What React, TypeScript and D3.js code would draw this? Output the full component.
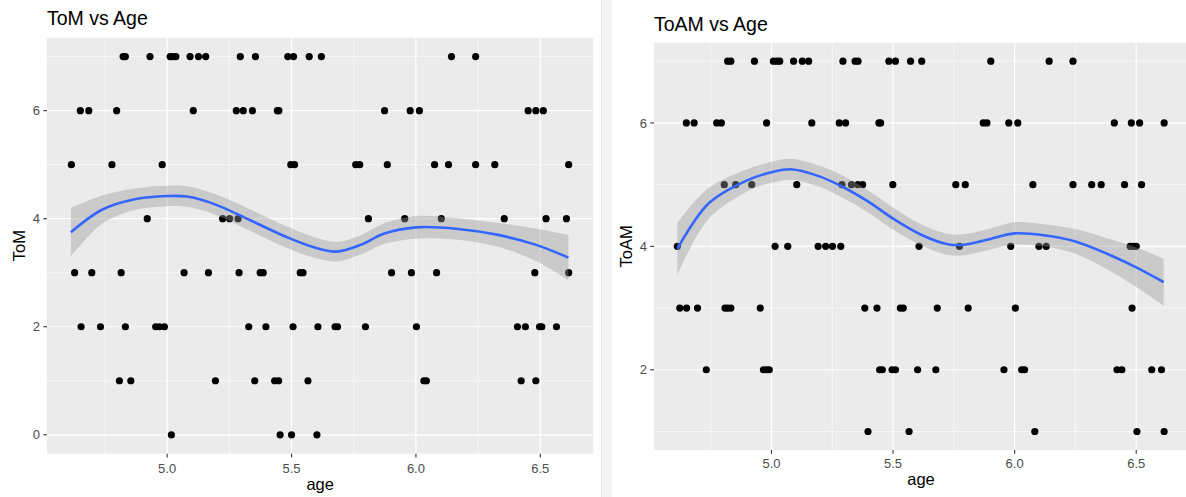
import * as d3 from "d3";

// ToM scores, ages grouped by score level
const tom7 = [4.823, 4.832, 4.931, 5.012, 5.023, 5.035, 5.092, 5.126, 5.155, 5.294, 5.355, 5.485, 5.508, 5.571, 5.62, 6.143, 6.24];
const tom6 = [4.651, 4.685, 4.797, 5.105, 5.278, 5.306, 5.343, 5.443, 5.449, 5.874, 5.977, 6.014, 6.451, 6.482, 6.512];
const tom5 = [4.615, 4.778, 4.98, 5.497, 5.512, 5.758, 5.774, 5.885, 6.075, 6.131, 6.24, 6.317, 6.614];
const tom4 = [4.92, 5.223, 5.251, 5.285, 5.809, 5.955, 6.102, 6.355, 6.523, 6.605];
const tom3 = [4.628, 4.697, 4.815, 5.068, 5.166, 5.289, 5.374, 5.386, 5.535, 5.546, 5.902, 5.982, 6.083, 6.478, 6.614];
const tom2 = [4.654, 4.732, 4.832, 4.954, 4.969, 4.989, 5.328, 5.397, 5.506, 5.606, 5.675, 5.685, 5.797, 6.002, 6.408, 6.44, 6.497, 6.506, 6.565];
const tom1 = [4.808, 4.854, 5.194, 5.352, 5.432, 5.448, 5.566, 6.032, 6.042, 6.423, 6.482];
const tom0 = [5.017, 5.454, 5.5, 5.602];

// ToAM scores
const toam7 = [4.82, 4.833, 4.93, 5.008, 5.022, 5.034, 5.091, 5.127, 5.153, 5.294, 5.344, 5.356, 5.483, 5.51, 5.572, 5.618, 5.902, 6.142, 6.24];
const toam6 = [4.65, 4.682, 4.775, 4.794, 4.98, 5.166, 5.279, 5.305, 5.442, 5.449, 5.871, 5.886, 5.976, 6.013, 6.41, 6.48, 6.514, 6.615];
const toam5 = [4.806, 4.853, 4.919, 5.104, 5.29, 5.329, 5.355, 5.375, 5.499, 5.758, 5.797, 6.075, 6.24, 6.317, 6.356, 6.452, 6.522];
const toam4 = [4.613, 5.015, 5.067, 5.192, 5.223, 5.251, 5.285, 5.607, 5.773, 5.984, 6.1, 6.13, 6.475, 6.488, 6.5];
const toam3 = [4.623, 4.651, 4.696, 4.809, 4.82, 4.833, 4.954, 5.384, 5.434, 5.53, 5.542, 5.682, 5.809, 6.003, 6.483];
const toam2 = [4.732, 4.967, 4.98, 4.991, 5.445, 5.456, 5.496, 5.51, 5.601, 5.676, 5.956, 6.029, 6.041, 6.421, 6.441, 6.564, 6.604];
const toam1 = [5.397, 5.566, 6.083, 6.503, 6.615];

// loess fits
const tomFitAge = [4.613, 4.74, 4.87, 5.0, 5.08, 5.19, 5.33, 5.48, 5.59, 5.68, 5.78, 5.87, 6.0, 6.17, 6.33, 6.48, 6.613];
const tomFit = [3.75, 4.17, 4.36, 4.42, 4.41, 4.27, 3.98, 3.66, 3.47, 3.39, 3.52, 3.72, 3.84, 3.81, 3.7, 3.52, 3.28];
const tomSe = [0.45, 0.26, 0.2, 0.19, 0.19, 0.19, 0.2, 0.2, 0.19, 0.18, 0.18, 0.19, 0.21, 0.2, 0.22, 0.3, 0.42];

const toamFitAge = [4.613, 4.74, 4.9, 5.0, 5.08, 5.2, 5.3, 5.4, 5.5, 5.62, 5.73, 5.8, 5.9, 6.0, 6.12, 6.25, 6.38, 6.5, 6.613];
const toamFit = [3.96, 4.69, 5.07, 5.2, 5.25, 5.13, 4.95, 4.72, 4.45, 4.18, 4.03, 4.03, 4.12, 4.21, 4.18, 4.08, 3.88, 3.66, 3.42];
const toamSe = [0.42, 0.25, 0.18, 0.17, 0.17, 0.17, 0.18, 0.18, 0.18, 0.17, 0.17, 0.17, 0.17, 0.18, 0.18, 0.2, 0.25, 0.32, 0.38];

const xTicks = [5.0, 5.5, 6.0, 6.5];
const xMinor = [4.75, 5.25, 5.75, 6.25];

const FONT = "'Liberation Sans', Arial, Helvetica, sans-serif";

type Pt = { age: number; score: number };

const toPoints = (levels: [number, number[]][]): Pt[] =>
  levels.flatMap(([score, ages]) => ages.map((age) => ({ age, score })));

interface PanelProps {
  title: string;
  yLabel: string;
  x0: number;
  x1: number;
  y0: number;
  y1: number;
  yDomain: [number, number];
  yTicks: number[];
  yMinor: number[];
  points: Pt[];
  fitAge: number[];
  fit: number[];
  se: number[];
  titleY: number;
  yTitleX: number;
  tickBase: number;
  xTitleBase: number;
}

const Panel = (p: PanelProps) => {
  const x = d3.scaleLinear().domain([4.517, 6.713]).range([p.x0, p.x1]);
  const y = d3.scaleLinear().domain(p.yDomain).range([p.y1, p.y0]);

  const fitData = p.fitAge.map((a, i) => ({ a, f: p.fit[i], s: p.se[i] }));
  const curve = d3.curveCatmullRom.alpha(0.5);
  const line = d3
    .line<{ a: number; f: number }>()
    .x((d) => x(d.a))
    .y((d) => y(d.f))
    .curve(curve);
  const band = d3
    .area<{ a: number; f: number; s: number }>()
    .x((d) => x(d.a))
    .y0((d) => y(d.f - d.s))
    .y1((d) => y(d.f + d.s))
    .curve(curve);

  return (
    <g fontFamily={FONT}>
      <text x={p.x0} y={p.titleY} fontSize={19.5} fill="#000">
        {p.title}
      </text>
      <rect x={p.x0} y={p.y0} width={p.x1 - p.x0} height={p.y1 - p.y0} fill="#EBEBEB" />
      {p.yMinor.map((t) => (
        <line key={"ym" + t} x1={p.x0} x2={p.x1} y1={y(t)} y2={y(t)} stroke="#fff" strokeWidth={0.6} />
      ))}
      {xMinor.map((t) => (
        <line key={"xm" + t} x1={x(t)} x2={x(t)} y1={p.y0} y2={p.y1} stroke="#fff" strokeWidth={0.6} />
      ))}
      {p.yTicks.map((t) => (
        <line key={"y" + t} x1={p.x0} x2={p.x1} y1={y(t)} y2={y(t)} stroke="#fff" strokeWidth={1.2} />
      ))}
      {xTicks.map((t) => (
        <line key={"x" + t} x1={x(t)} x2={x(t)} y1={p.y0} y2={p.y1} stroke="#fff" strokeWidth={1.2} />
      ))}

      {p.points.map((d, i) => (
        <circle key={i} cx={x(d.age)} cy={y(d.score)} r={3.6} fill="#000" />
      ))}

      <path d={band(fitData) ?? ""} fill="#999999" fillOpacity={0.4} />
      <path d={line(fitData) ?? ""} fill="none" stroke="#3366FF" strokeWidth={2.6} />

      {/* axes */}
      {xTicks.map((t) => (
        <g key={"xt" + t}>
          <line x1={x(t)} x2={x(t)} y1={p.y1} y2={p.y1 + 3.7} stroke="#333" strokeWidth={1.1} />
          <text x={x(t)} y={p.tickBase} textAnchor="middle" fontSize={13} fill="#4D4D4D">
            {d3.format(".1f")(t)}
          </text>
        </g>
      ))}
      {p.yTicks.map((t) => (
        <g key={"yt" + t}>
          <line x1={p.x0 - 3.7} x2={p.x0} y1={y(t)} y2={y(t)} stroke="#333" strokeWidth={1.1} />
          <text x={p.x0 - 7} y={y(t)} dy="0.36em" textAnchor="end" fontSize={13} fill="#4D4D4D">
            {t}
          </text>
        </g>
      ))}
      <text x={(p.x0 + p.x1) / 2} y={p.xTitleBase} textAnchor="middle" fontSize={16.5} fill="#000">
        age
      </text>
      <text
        transform={`translate(${p.yTitleX},${(p.y0 + p.y1) / 2}) rotate(-90)`}
        textAnchor="middle"
        fontSize={16.5}
        fill="#000"
      >
        {p.yLabel}
      </text>
    </g>
  );
};

export default function App() {
  const tomPts = toPoints([
    [7, tom7], [6, tom6], [5, tom5], [4, tom4], [3, tom3], [2, tom2], [1, tom1], [0, tom0],
  ]);
  const toamPts = toPoints([
    [7, toam7], [6, toam6], [5, toam5], [4, toam4], [3, toam3], [2, toam2], [1, toam1],
  ]);

  return (
    <svg
      width={1186}
      height={497}
      style={{ position: "absolute", left: 0, top: 0, background: "#fff" }}
    >
      <rect width={1186} height={497} fill="#fff" />
      <Panel
        title="ToM vs Age"
        yLabel="ToM"
        x0={47}
        x1={593.3}
        y0={37.7}
        y1={453.7}
        yDomain={[-0.35, 7.35]}
        yTicks={[0, 2, 4, 6]}
        yMinor={[1, 3, 5, 7]}
        points={tomPts}
        fitAge={tomFitAge}
        fit={tomFit}
        se={tomSe}
        titleY={25}
        yTitleX={25}
        tickBase={473}
        xTitleBase={490}
      />
      <rect x={601} y={0} width={11} height={497} fill="#F3F4F6" />
      <line x1={601.5} x2={601.5} y1={0} y2={497} stroke="#E4E5E7" strokeWidth={1} />
      <Panel
        title="ToAM vs Age"
        yLabel="ToAM"
        x0={654}
        x1={1188}
        y0={42.7}
        y1={450}
        yDomain={[0.7, 7.3]}
        yTicks={[2, 4, 6]}
        yMinor={[1, 3, 5, 7]}
        points={toamPts}
        fitAge={toamFitAge}
        fit={toamFit}
        se={toamSe}
        titleY={31}
        yTitleX={632}
        tickBase={468}
        xTitleBase={485}
      />
    </svg>
  );
}
